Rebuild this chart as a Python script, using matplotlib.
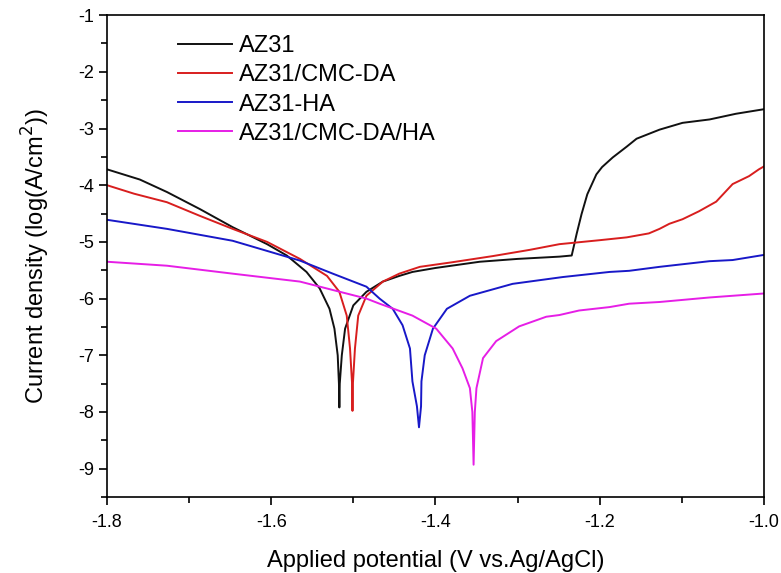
import matplotlib
matplotlib.use("Agg")
import matplotlib.pyplot as plt
from matplotlib.ticker import MultipleLocator, FormatStrFormatter

plt.rcParams['font.family'] = ['Liberation Sans', 'DejaVu Sans']
plt.rcParams['axes.unicode_minus'] = False

# potentiodynamic polarization curves, E (V vs Ag/AgCl) vs log current density
az31_e = [-1.800, -1.760, -1.727, -1.687, -1.647, -1.605, -1.581, -1.557, -1.541,
          -1.529, -1.523, -1.519, -1.5175, -1.517, -1.5165, -1.514, -1.510, -1.500,
          -1.484, -1.464, -1.444, -1.428, -1.400, -1.346, -1.300, -1.249, -1.234,
          -1.228, -1.222, -1.215, -1.204, -1.197, -1.184, -1.167, -1.155, -1.127,
          -1.099, -1.066, -1.034, -1.000]
az31_i = [-3.72, -3.90, -4.12, -4.42, -4.74, -5.04, -5.24, -5.53, -5.82,
          -6.18, -6.53, -7.00, -7.50, -7.92, -7.50, -7.00, -6.53, -6.12,
          -5.88, -5.70, -5.60, -5.53, -5.46, -5.35, -5.30, -5.26, -5.24,
          -4.86, -4.51, -4.16, -3.81, -3.68, -3.51, -3.32, -3.18, -3.02,
          -2.90, -2.84, -2.74, -2.66]

cmc_e = [-1.800, -1.767, -1.727, -1.687, -1.647, -1.605, -1.565, -1.532, -1.517,
         -1.508, -1.504, -1.5015, -1.501, -1.5005, -1.498, -1.494, -1.484, -1.464,
         -1.444, -1.419, -1.380, -1.330, -1.285, -1.249, -1.200, -1.167, -1.140,
         -1.127, -1.115, -1.099, -1.079, -1.058, -1.038, -1.018, -1.006, -1.000]
cmc_i = [-4.00, -4.15, -4.30, -4.54, -4.77, -5.00, -5.30, -5.60, -5.88,
         -6.30, -6.88, -7.50, -7.98, -7.50, -6.88, -6.30, -5.95, -5.70,
         -5.56, -5.44, -5.36, -5.25, -5.14, -5.04, -4.97, -4.92, -4.85,
         -4.77, -4.68, -4.60, -4.46, -4.29, -3.98, -3.84, -3.72, -3.67]

ha_e = [-1.800, -1.727, -1.647, -1.565, -1.525, -1.484, -1.468, -1.452, -1.440,
        -1.431, -1.428, -1.4225, -1.420, -1.4175, -1.417, -1.413, -1.403, -1.386,
        -1.358, -1.306, -1.245, -1.188, -1.164, -1.127, -1.066, -1.038, -1.000]
ha_i = [-4.61, -4.77, -4.98, -5.33, -5.56, -5.79, -6.00, -6.18, -6.47,
        -6.88, -7.46, -7.90, -8.27, -7.90, -7.46, -7.00, -6.53, -6.18,
        -5.95, -5.74, -5.62, -5.53, -5.51, -5.44, -5.34, -5.32, -5.23]

cmcha_e = [-1.800, -1.727, -1.647, -1.565, -1.484, -1.468, -1.428, -1.399, -1.379,
           -1.367, -1.358, -1.355, -1.3535, -1.352, -1.350, -1.342, -1.326, -1.298,
           -1.265, -1.249, -1.225, -1.188, -1.164, -1.127, -1.066, -1.000]
cmcha_i = [-5.35, -5.42, -5.56, -5.70, -6.00, -6.09, -6.30, -6.53, -6.88,
           -7.23, -7.58, -8.00, -8.93, -8.00, -7.58, -7.05, -6.75, -6.49,
           -6.32, -6.29, -6.21, -6.15, -6.09, -6.06, -5.98, -5.91]

labels = ['AZ31', 'AZ31/CMC-DA', 'AZ31-HA', 'AZ31/CMC-DA/HA']
colors = ['#111111', '#d81e1e', '#1818c8', '#e61ee6']

fig = plt.figure(figsize=(7.81, 5.73), dpi=100)
ax = fig.add_axes([0.137, 0.1326, 0.841, 0.841])

for e, i, lab, c in zip([az31_e, cmc_e, ha_e, cmcha_e],
                        [az31_i, cmc_i, ha_i, cmcha_i], labels, colors):
    ax.plot(e, i, color=c, lw=1.4, label=lab)

ax.set_xlim(-1.8, -1.0)
ax.set_ylim(-9.5, -1)
ax.xaxis.set_major_locator(MultipleLocator(0.2))
ax.xaxis.set_minor_locator(MultipleLocator(0.1))
ax.yaxis.set_major_locator(MultipleLocator(1))
ax.yaxis.set_minor_locator(MultipleLocator(0.5))
ax.xaxis.set_major_formatter(FormatStrFormatter('%.1f'))
ax.tick_params(which='major', direction='out', length=6, width=1.2, labelsize=13, pad=3)
ax.tick_params(axis='x', which='major', pad=6)
ax.tick_params(which='minor', direction='out', length=4, width=1.2)
for s in ax.spines.values():
    s.set_linewidth(1.2)

ax.set_xlabel('Applied potential (V vs.Ag/AgCl)', fontsize=17, labelpad=14)
ax.set_ylabel('Current density (log(A/cm$^2$))', fontsize=17, labelpad=19)

ax.legend(loc='upper left', bbox_to_anchor=(0.108, 0.958), frameon=False,
          fontsize=17, handlelength=2.3, handletextpad=0.3, labelspacing=0.3,
          borderpad=0, borderaxespad=0)

fig.savefig('out.png', dpi=100)
